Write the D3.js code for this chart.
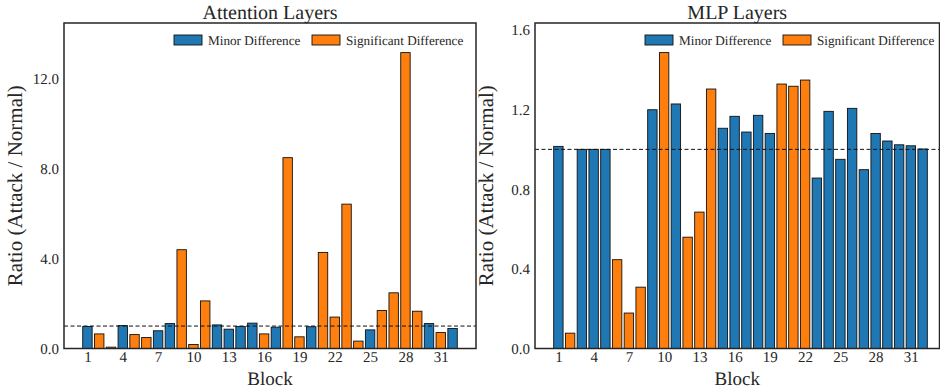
<!DOCTYPE html>
<html>
<head>
<meta charset="utf-8">
<script src="https://cdn.jsdelivr.net/npm/d3@7"></script>
<style>
	body { margin: 0; background: #fff; }
	svg text { font-family: "Liberation Serif", "Times New Roman", serif !important; text-rendering: geometricPrecision; }
</style>
</head>
<body>
<svg id="chart" width="940" height="391"></svg>
<script>
// Blocks 1..32
const blocks = [1, 2, 3, 4, 5, 6, 7, 8, 9, 10, 11, 12, 13, 14, 15, 16,
	17, 18, 19, 20, 21, 22, 23, 24, 25, 26, 27, 28, 29, 30, 31, 32];
const xTickLabels = [1, 4, 7, 10, 13, 16, 19, 22, 25, 28, 31];

// Attention layers: ratio attack / normal, and whether the difference is significant
const attnValues = [0.98, 0.65, 0.06, 1.02, 0.62, 0.49, 0.79, 1.11, 4.40, 0.18, 2.12, 1.05, 0.86, 0.98, 1.13, 0.65,
	0.95, 8.50, 0.52, 0.97, 4.28, 1.40, 6.43, 0.33, 0.83, 1.69, 2.48, 13.18, 1.66, 1.11, 0.71, 0.89];
const attnSignificant = [0, 1, 1, 0, 1, 1, 0, 0, 1, 1, 1, 0, 0, 0, 0, 1,
	0, 1, 1, 0, 1, 1, 1, 1, 0, 1, 1, 1, 1, 0, 1, 0];
const attnYTicks = [0, 4, 8, 12];

// MLP layers
const mlpValues = [1.015, 0.077, 1.0, 1.0, 1.0, 0.446, 0.178, 0.308, 1.199, 1.486, 1.228, 0.559, 0.685, 1.303, 1.106, 1.166,
	1.087, 1.171, 1.080, 1.328, 1.317, 1.348, 0.856, 1.191, 0.950, 1.206, 0.898, 1.080, 1.042, 1.023, 1.018, 1.002];
const mlpSignificant = [0, 1, 0, 0, 0, 1, 1, 1, 0, 1, 0, 1, 1, 1, 0, 0,
	0, 0, 0, 1, 1, 1, 0, 0, 0, 0, 0, 0, 0, 0, 0, 0];
const mlpYTicks = [0, 0.4, 0.8, 1.2, 1.6];

const seriesNames = ["Minor Difference", "Significant Difference"];
const colors = ["#1f77b4", "#ff7f0e"];

const FONT = "'Liberation Serif', 'Times New Roman', serif";
const svg = d3.select("#chart")
	.attr("font-family", FONT);
const plotTop = 23, plotBottom = 348.5;

function drawPanel(opts) {
	const { left, right, frameRight, title, values, significant, yTicks } = opts;
	const g = svg.append("g");

	// matplotlib-like x limits: bar extent plus 5% margins
	const barW = 0.8;
	const lo = blocks[0] - barW / 2, hi = blocks[blocks.length - 1] + barW / 2;
	const pad = (hi - lo) * 0.05;
	const x = d3.scaleLinear().domain([lo - pad, hi + pad]).range([left, right]);
	const y = d3.scaleLinear().domain([0, d3.max(values) * 1.1]).range([plotBottom, plotTop]);

	const data = blocks.map((b, i) => ({ block: b, value: values[i], sig: significant[i] }));

	// Bars
	g.append("g")
		.selectAll("rect.bar")
		.data(data)
		.enter()
		.append("rect")
		.attr("class", "bar")
		.attr("x", d => x(d.block - barW / 2))
		.attr("y", d => y(d.value))
		.attr("width", x(barW) - x(0))
		.attr("height", d => plotBottom - y(d.value))
		.attr("fill", d => colors[d.sig])
		.attr("stroke", "#111")
		.attr("stroke-width", 0.9);

	// Reference line at ratio = 1
	g.append("line")
		.attr("x1", left)
		.attr("x2", frameRight)
		.attr("y1", y(1))
		.attr("y2", y(1))
		.attr("stroke", "#111")
		.attr("stroke-width", 1)
		.attr("stroke-dasharray", "4,2.5");

	// Frame
	g.append("rect")
		.attr("x", left)
		.attr("y", plotTop)
		.attr("width", frameRight - left)
		.attr("height", plotBottom - plotTop)
		.attr("fill", "none")
		.attr("stroke", "#262626")
		.attr("stroke-width", 1.5);

	// Axes
	const yAxis = g.append("g")
		.attr("transform", "translate(" + left + ",0)")
		.call(d3.axisLeft(y).tickValues(yTicks).tickFormat(d3.format(".1f")).tickSize(0).tickPadding(5))
		.attr("font-family", FONT)
		.attr("font-size", 15);
	yAxis.select(".domain").remove();
	yAxis.selectAll("text").attr("fill", "#262626");

	const xAxis = g.append("g")
		.attr("transform", "translate(0," + plotBottom + ")")
		.call(d3.axisBottom(x).tickValues(xTickLabels).tickFormat(d3.format("d")).tickSize(0).tickPadding(3))
		.attr("font-family", FONT)
		.attr("font-size", 15);
	xAxis.select(".domain").remove();
	xAxis.selectAll("text").attr("fill", "#262626");

	// Titles and labels
	g.append("text")
		.attr("x", (left + frameRight) / 2)
		.attr("y", 19)
		.attr("text-anchor", "middle")
		.attr("font-size", 20)
		.attr("fill", "#262626")
		.text(title);

	g.append("text")
		.attr("x", (left + frameRight) / 2)
		.attr("y", 385)
		.attr("text-anchor", "middle")
		.attr("font-size", 19)
		.attr("fill", "#262626")
		.text("Block");

	g.append("text")
		.attr("transform", "translate(" + (left - 42) + "," + ((plotTop + plotBottom) / 2) + ") rotate(-90)")
		.attr("text-anchor", "middle")
		.attr("font-size", 21)
		.attr("fill", "#262626")
		.text("Ratio (Attack / Normal)");

	// Legend
	const legend = g.append("g")
		.attr("transform", "translate(" + (left + 110) + ",35)");
	const offsets = [0, 138];
	seriesNames.forEach((name, i) => {
		legend.append("rect")
			.attr("x", offsets[i])
			.attr("y", 0)
			.attr("width", 28)
			.attr("height", 10)
			.attr("fill", colors[i])
			.attr("stroke", "#111")
			.attr("stroke-width", 0.9);
		legend.append("text")
			.attr("x", offsets[i] + 34)
			.attr("y", 10)
			.attr("font-size", 13.2)
			.attr("fill", "#262626")
			.text(name);
	});
}

drawPanel({
	left: 64, right: 476, frameRight: 476,
	title: "Attention Layers",
	values: attnValues, significant: attnSignificant, yTicks: attnYTicks
});

drawPanel({
	left: 535, right: 946, frameRight: 939.5,
	title: "MLP Layers",
	values: mlpValues, significant: mlpSignificant, yTicks: mlpYTicks
});
</script>
</body>
</html>
